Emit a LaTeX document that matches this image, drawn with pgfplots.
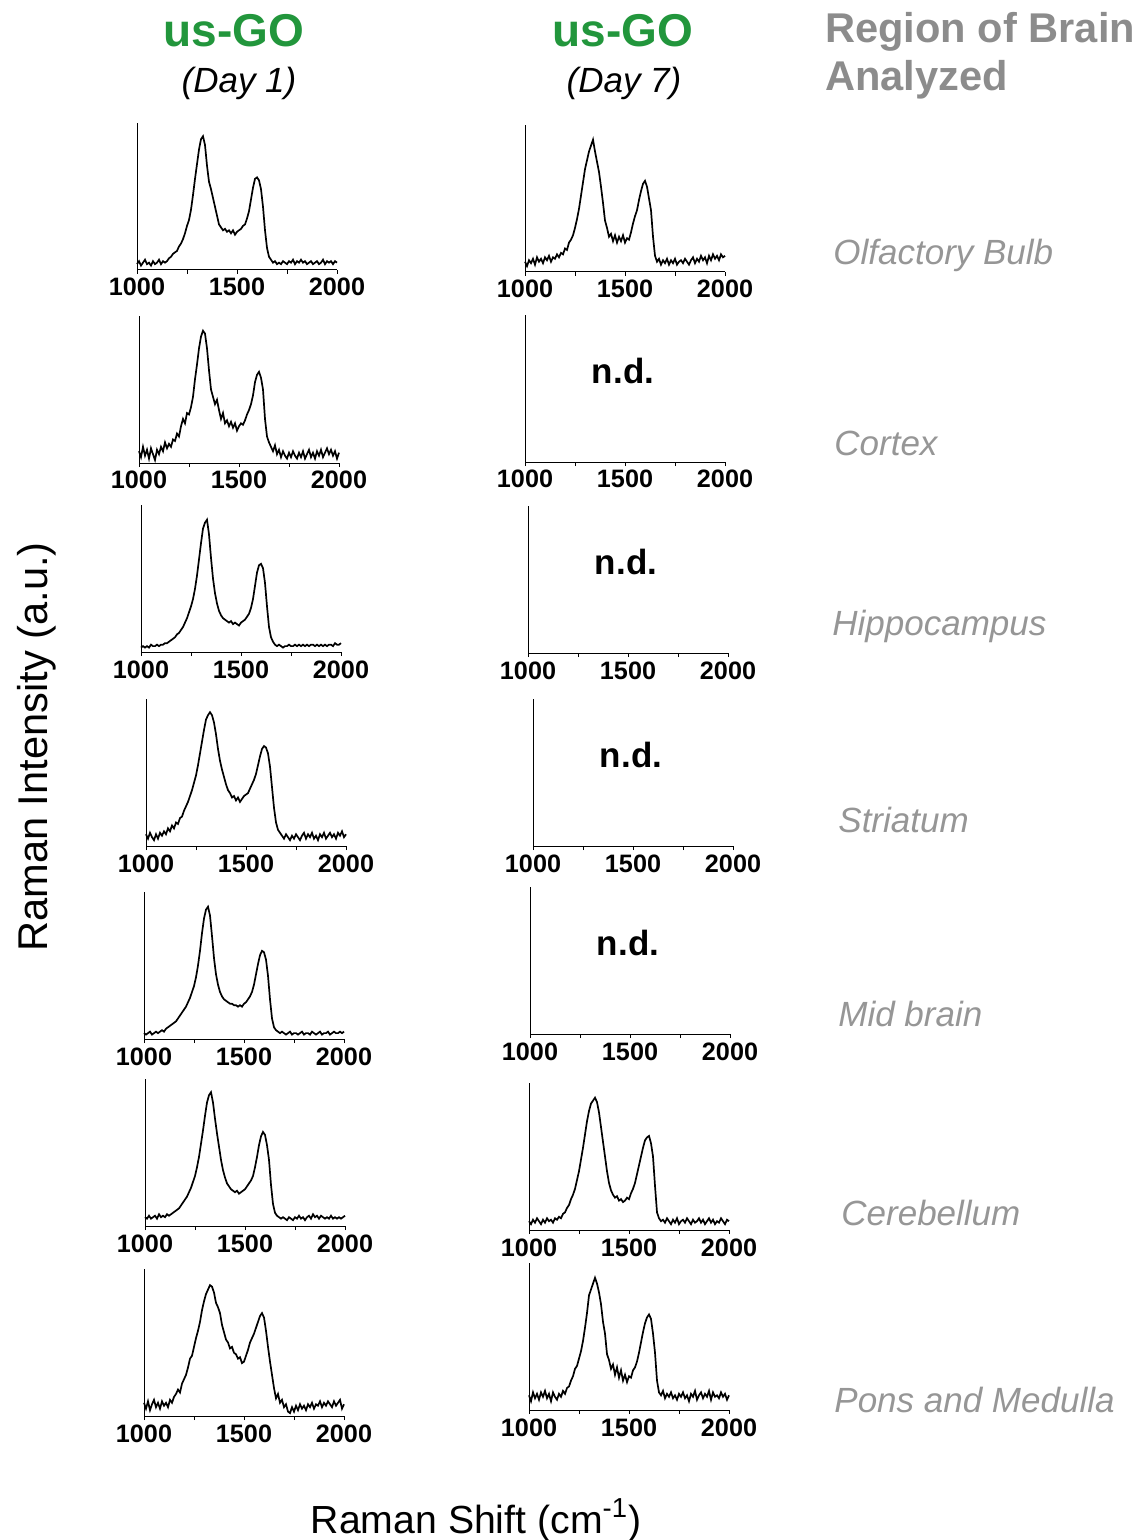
\documentclass[border=0pt]{standalone}
\usepackage{fontspec}
\setmainfont{Liberation Sans}
\usepackage{pgfplots}
\usepackage{pgfplotstable}
\pgfplotsset{compat=1.18}
\definecolor{goGreen}{RGB}{34,150,60}
\definecolor{hdrGray}{RGB}{140,140,140}
\definecolor{regGray}{RGB}{150,150,150}

\pgfplotstableread{
x a1 a2 a3 a4 a5 a6 a7 b1 b6 b7
1000 4 8 3 8 4 6 9 7 6 10
1010 6 4 4 5 3 5 5 4 4 6
1020 3 11 3 9 4 7 10 8 7 12
1030 5 5 4 6 5 5 4 6 5 8
1040 7 9 3 4 3 6 8 9 8 11
1050 4 3 5 8 4 7 11 5 6 7
1060 5 10 4 5 5 5 6 10 4 12
1070 3 6 4 9 4 8 9 7 7 9
1080 6 2 5 7 5 6 5 9 5 13
1090 4 9 4 10 6 7 10 6 8 8
1100 5 6 5 8 5 6 7 10 6 11
1110 7 11 5 12 7 8 9 8 7 6
1120 4 8 6 10 8 7 6 11 5 12
1130 6 14 6 14 9 8 11 7 8 9
1140 5 10 7 12 10 9 9 10 7 7
1150 6 13 8 16 11 10 13 9 9 11
1160 8 11 9 15 12 11 15 12 8 9
1170 9 16 10 19 14 12 18 10 11 13
1180 11 15 12 20 16 14 16 13 12 11
1190 12 20 13 24 18 16 22 12 15 15
1200 13 18 15 27 20 18 25 16 17 16
1210 16 25 17 30 22 20 28 15 21 20
1220 18 30 20 34 25 23 33 20 24 23
1230 21 27 23 38 28 26 39 22 28 28
1240 25 34 27 43 32 30 41 25 34 30
1250 30 33 31 48 36 34 47 30 40 35
1260 34 38 36 55 42 40 53 36 48 40
1270 41 45 43 63 50 47 58 43 56 47
1280 51 57 52 71 60 56 64 52 65 56
1290 62 67 63 79 72 65 72 61 74 66
1300 72 78 74 86 82 75 78 70 81 78
1310 82 86 84 89 88 84 83 76 86 82
1320 89 90 88 91 90 89 86 82 88 86
1330 91 88 90 89 84 91 89 86 90 90
1340 85 78 80 84 70 84 88 90 87 86
1350 71 63 64 76 55 73 84 82 80 80
1360 60 50 50 66 44 63 77 75 70 72
1370 55 45 40 58 37 54 74 68 60 60
1380 49 40 33 52 32 45 70 58 50 52
1390 43 43 28 47 29 38 62 47 40 38
1400 37 36 25 42 27 33 57 35 32 34
1410 31 30 23 38 26 29 52 30 27 28
1420 29 34 22 36 25 27 50 24 24 31
1430 27 27 21 33 24 25 46 26 22 24
1440 28 29 20 34 24 24 47 21 23 29
1450 26 25 21 31 23 23 43 25 20 22
1460 27 28 19 33 23 24 42 20 21 27
1470 25 24 20 30 22 22 39 24 19 20
1480 27 27 19 32 23 23 40 21 20 24
1490 24 22 18 34 22 24 36 25 22 19
1500 26 25 20 35 24 25 37 20 21 23
1510 27 27 21 36 25 27 41 23 25 22
1520 28 26 22 39 27 29 45 22 28 27
1530 30 29 24 42 29 31 50 27 32 29
1540 31 33 26 45 32 34 53 33 38 33
1550 35 36 30 49 37 40 56 38 44 39
1560 40 40 36 55 44 47 60 42 50 46
1570 48 46 45 61 51 55 64 49 56 53
1580 56 55 54 66 57 61 68 55 61 59
1590 62 60 59 68 60 64 70 60 63 63
1600 63 62 60 67 59 62 67 62 64 65
1610 61 58 57 63 54 55 58 58 59 62
1620 55 50 47 54 43 45 47 50 50 52
1630 43 30 31 40 27 28 37 42 30 39
1640 27 18 17 26 14 15 28 24 12 20
1650 15 14 10 16 8 9 19 11 8 12
1660 9 11 7 11 6 7 12 7 6 10
1670 7 8 5 9 5 6 15 9 7 13
1680 5 12 4 7 4 5 9 5 5 8
1690 6 6 5 5 5 6 11 8 8 11
1700 4 9 4 8 4 5 6 6 6 9
1710 5 4 3 6 3 4 8 9 4 12
1720 4 8 4 4 4 6 3 5 7 8
1730 6 5 4 7 5 5 2 8 5 10
1740 5 3 5 5 3 4 6 6 8 7
1750 4 7 4 8 4 6 3 9 4 11
1760 6 4 4 6 4 5 7 5 6 9
1770 5 8 5 4 3 7 4 7 7 12
1780 7 5 4 7 4 5 8 8 5 8
1790 4 3 5 9 5 6 5 6 8 10
1800 6 7 4 5 3 4 7 9 6 6
1810 5 4 5 8 4 6 4 7 4 11
1820 7 8 4 6 4 7 8 5 7 9
1830 5 3 5 9 3 5 6 8 5 13
1840 6 6 4 5 5 8 9 10 6 7
1850 4 9 5 7 4 6 5 6 8 10
1860 5 4 5 4 3 7 8 9 5 12
1870 6 7 4 8 4 5 7 7 7 8
1880 4 3 5 6 5 7 10 11 4 11
1890 5 8 4 9 3 6 6 8 6 9
1900 6 5 5 5 4 5 9 10 8 13
1910 4 9 4 7 4 6 7 6 5 7
1920 5 4 5 9 5 5 10 11 7 12
1930 7 7 4 6 3 7 8 8 4 9
1940 4 10 5 8 4 5 6 12 6 10
1950 6 6 5 5 5 6 10 9 5 8
1960 5 9 4 9 4 5 7 11 8 12
1970 6 5 6 7 4 6 9 8 6 9
1980 4 8 5 10 5 5 11 12 4 11
1990 6 3 5 6 4 6 5 10 7 7
2000 5 7 6 8 5 7 8 11 6 10
}\spectra

\pgfplotsset{
  spec/.style={
    scale only axis, width=100pt, height=73.5pt,
    xmin=1000, xmax=2000, ymin=0, ymax=100,
    axis x line=bottom, axis y line=left,
    axis line style={-, line width=0.5pt, black},
    x axis line style={-}, y axis line style={-},
    xtick={1000,1500,2000}, minor xtick={1250,1750},
    ytick=\empty,
    tick align=outside,
    major tick length=2pt, minor tick length=2pt,
    tick style={black, line width=0.5pt},
    xticklabel style={font=\fontsize{12.6}{14}\selectfont\bfseries, inner sep=0pt, yshift=-2pt},
    /pgf/number format/assume math mode=true,
    /pgf/number format/1000 sep={},
    clip=false,
    anchor=south west,
  },
  spl/.style={black, line width=0.85pt, mark=none},
}
\newcommand{\nd}{\node[font=\fontsize{17.5}{20}\selectfont\bfseries] at (rel axis cs:0.49,0.62) {n.d.};}

\begin{document}
\begin{tikzpicture}
\useasboundingbox (0,0) rectangle (567pt,-770pt);

% headers
\node[anchor=base, font=\fontsize{23}{26}\selectfont\bfseries, text=goGreen] at (117pt,-23.5pt) {us-GO};
\node[anchor=base, font=\fontsize{17.5}{20}\selectfont\itshape] at (119.5pt,-46.2pt) {(Day 1)};
\node[anchor=base, font=\fontsize{23}{26}\selectfont\bfseries, text=goGreen] at (311.5pt,-23.5pt) {us-GO};
\node[anchor=base, font=\fontsize{17.5}{20}\selectfont\itshape] at (312pt,-46.2pt) {(Day 7)};
\node[anchor=base west, font=\fontsize{20.8}{24}\selectfont\bfseries, text=hdrGray, inner sep=0pt] at (412.5pt,-21.5pt) {Region of Brain};
\node[anchor=base west, font=\fontsize{20.8}{24}\selectfont\bfseries, text=hdrGray, inner sep=0pt] at (412.5pt,-45.5pt) {Analyzed};

% region labels
\begin{scope}[every node/.style={anchor=base west, inner sep=0pt, font=\fontsize{17.5}{20}\selectfont\itshape, text=regGray}]
\node at (416.5pt,-132.5pt) {Olfactory Bulb};
\node at (417pt,-227.5pt) {Cortex};
\node at (416pt,-317.5pt) {Hippocampus};
\node at (419pt,-416pt) {Striatum};
\node at (419pt,-513pt) {Mid brain};
\node at (420.5pt,-612.5pt) {Cerebellum};
\node at (417pt,-706pt) {Pons and Medulla};
\end{scope}

% axis titles
\node[rotate=90, anchor=base, font=\fontsize{20.8}{24}\selectfont] at (23.5pt,-373.5pt) {Raman Intensity (a.u.)};
\node[anchor=base, font=\fontsize{19.6}{24}\selectfont] at (238pt,-766.5pt) {Raman Shift (cm\textsuperscript{-1})};

% column 1 (Day 1)
\begin{axis}[spec, at={(68.5pt,-135pt)}]
\addplot[spl] table[x=x,y=a1]{\spectra};
\end{axis}
\begin{axis}[spec, at={(69.5pt,-231.5pt)}]
\addplot[spl] table[x=x,y=a2]{\spectra};
\end{axis}
\begin{axis}[spec, at={(70.5pt,-326pt)}]
\addplot[spl] table[x=x,y=a3]{\spectra};
\end{axis}
\begin{axis}[spec, at={(73pt,-423pt)}]
\addplot[spl] table[x=x,y=a4]{\spectra};
\end{axis}
\begin{axis}[spec, at={(72pt,-519.5pt)}]
\addplot[spl] table[x=x,y=a5]{\spectra};
\end{axis}
\begin{axis}[spec, at={(72.5pt,-613pt)}]
\addplot[spl] table[x=x,y=a6]{\spectra};
\end{axis}
\begin{axis}[spec, at={(72pt,-708pt)}]
\addplot[spl] table[x=x,y=a7]{\spectra};
\end{axis}

% column 2 (Day 7)
\begin{axis}[spec, at={(262.5pt,-136pt)}]
\addplot[spl] table[x=x,y=b1]{\spectra};
\end{axis}
\begin{axis}[spec, at={(262.5pt,-231pt)}]
\nd
\end{axis}
\begin{axis}[spec, at={(264pt,-326.5pt)}]
\nd
\end{axis}
\begin{axis}[spec, at={(266.5pt,-423pt)}]
\nd
\end{axis}
\begin{axis}[spec, at={(265pt,-517pt)}]
\nd
\end{axis}
\begin{axis}[spec, at={(264.5pt,-615pt)}]
\addplot[spl] table[x=x,y=b6]{\spectra};
\end{axis}
\begin{axis}[spec, at={(264.5pt,-705pt)}]
\addplot[spl] table[x=x,y=b7]{\spectra};
\end{axis}
\end{tikzpicture}
\end{document}
